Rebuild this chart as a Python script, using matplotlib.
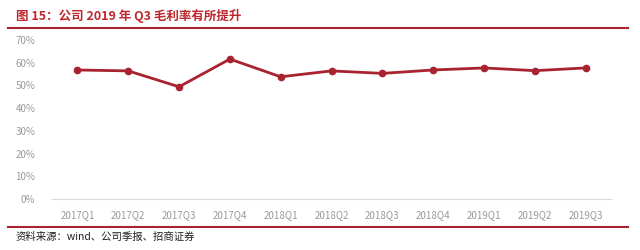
import matplotlib
matplotlib.use("Agg")
import matplotlib.pyplot as plt
from matplotlib.lines import Line2D
from matplotlib.ticker import FuncFormatter

plt.rcParams['font.family'] = ['Noto Sans CJK SC', 'DejaVu Sans']

quarters = ["2017Q1", "2017Q2", "2017Q3", "2017Q4", "2018Q1", "2018Q2",
            "2018Q3", "2018Q4", "2019Q1", "2019Q2", "2019Q3"]
gross_margin = [56.8, 56.4, 49.4, 61.6, 53.8, 56.4, 55.3, 56.8, 57.7, 56.5, 57.7]
yticks = [0, 10, 20, 30, 40, 50, 60, 70]

title = "图 15：公司 2019 年 Q3 毛利率有所提升"
source = "资料来源：wind、公司季报、招商证券"

W, H = 640, 250
fig = plt.figure(figsize=(W / 100, H / 100), dpi=100)
ax = fig.add_axes([52 / W, 1 - 199 / H, (611 - 52) / W, (199 - 40) / H])

x = list(range(len(quarters)))
ax.plot(x, gross_margin, color="#A8232F", linewidth=2.0, marker="o",
        markersize=4.5, markerfacecolor="#A8232F", markeredgecolor="#A8232F")

ax.set_xlim(-0.5, len(quarters) - 0.5)
ax.set_ylim(0, 70)
ax.set_yticks(yticks)
ax.yaxis.set_major_formatter(FuncFormatter(lambda v, p: f"{int(v)}%"))
ax.set_xticks(x)
ax.set_xticklabels(quarters)
for s in ["top", "right", "left"]:
    ax.spines[s].set_visible(False)
ax.spines["bottom"].set_color("#D9D9D9")
ax.spines["bottom"].set_linewidth(0.8)
ax.tick_params(axis="both", length=0, labelsize=7, labelcolor="#999999")
ax.tick_params(axis="x", pad=8)
ax.tick_params(axis="y", pad=12)

fig.text(16 / W, 1 - 16 / H, title, color="#C0272D", fontsize=9,
         fontweight="bold", va="center", ha="left")
fig.add_artist(Line2D([8 / W, 628 / W], [1 - 27.5 / H, 1 - 27.5 / H],
                      color="#A8232F", linewidth=1.5, transform=fig.transFigure))
fig.add_artist(Line2D([8 / W, 628 / W], [1 - 227 / H, 1 - 227 / H],
                      color="#A8232F", linewidth=1.5, transform=fig.transFigure))
fig.text(16 / W, 1 - 237 / H, source, color="#222222", fontsize=7.5,
         va="center", ha="left")

fig.savefig("out.png", dpi=100)
